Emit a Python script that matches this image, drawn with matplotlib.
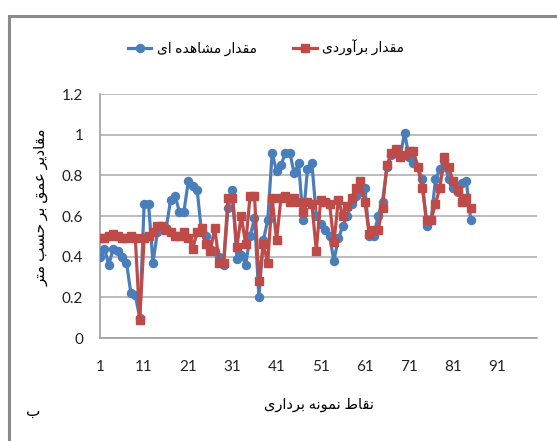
import matplotlib
matplotlib.use('Agg')
import matplotlib.pyplot as plt

plt.rcParams['font.family'] = ['Lato', 'DejaVu Sans']

# sample points 1..85
observed = [0.40, 0.44, 0.36, 0.44, 0.43, 0.40, 0.37, 0.22, 0.21, 0.10,
            0.66, 0.66, 0.37, 0.52, 0.55, 0.54, 0.68, 0.70, 0.62, 0.62,
            0.77, 0.75, 0.73, 0.52, 0.50, 0.44, 0.43, 0.40, 0.36, 0.64,
            0.73, 0.39, 0.41, 0.36, 0.50, 0.59, 0.20, 0.48, 0.58, 0.91,
            0.82, 0.85, 0.91, 0.91, 0.81, 0.86, 0.58, 0.83, 0.86, 0.60,
            0.56, 0.53, 0.50, 0.38, 0.49, 0.55, 0.60, 0.66, 0.70, 0.72,
            0.74, 0.50, 0.50, 0.60, 0.67, 0.84, 0.90, 0.92, 0.89, 1.01,
            0.89, 0.86, 0.84, 0.78, 0.55, 0.58, 0.78, 0.83, 0.87, 0.78,
            0.74, 0.72, 0.76, 0.77, 0.58]
estimated = [0.49, 0.49, 0.50, 0.51, 0.50, 0.49, 0.49, 0.50, 0.49, 0.09,
             0.49, 0.50, 0.52, 0.55, 0.55, 0.53, 0.52, 0.50, 0.50, 0.52,
             0.49, 0.44, 0.52, 0.54, 0.46, 0.43, 0.54, 0.37, 0.37, 0.69,
             0.69, 0.45, 0.60, 0.46, 0.70, 0.70, 0.28, 0.46, 0.37, 0.69,
             0.48, 0.69, 0.70, 0.67, 0.69, 0.67, 0.62, 0.67, 0.66, 0.43,
             0.68, 0.67, 0.66, 0.47, 0.68, 0.60, 0.65, 0.69, 0.74, 0.77,
             0.67, 0.51, 0.53, 0.53, 0.64, 0.85, 0.91, 0.93, 0.89, 0.90,
             0.92, 0.92, 0.84, 0.74, 0.58, 0.58, 0.66, 0.74, 0.89, 0.84,
             0.77, 0.73, 0.67, 0.69, 0.64]
samples = list(range(1, len(observed) + 1))
x_ticks = [1, 11, 21, 31, 41, 51, 61, 71, 81, 91]
y_ticks = [0, 0.2, 0.4, 0.6, 0.8, 1, 1.2]

label_obs = 'مقدار مشاهده ای'
label_est = 'مقدار برآوردی'
x_title = 'نقاط نمونه برداری'
y_title = 'مقادیر عمق بر حسب متر'
panel = 'ب'

# matplotlib has no arabic shaping, so pick presentation forms by hand
# (isolated, final, initial, medial); two entries = joins to the right only
FORMS = {
    'ا': (0xFE8D, 0xFE8E), 'آ': (0xFE81, 0xFE82),
    'د': (0xFEA9, 0xFEAA), 'ر': (0xFEAD, 0xFEAE), 'و': (0xFEED, 0xFEEE),
    'ب': (0xFE8F, 0xFE90, 0xFE91, 0xFE92), 'ت': (0xFE95, 0xFE96, 0xFE97, 0xFE98),
    'ح': (0xFEA1, 0xFEA2, 0xFEA3, 0xFEA4), 'س': (0xFEB1, 0xFEB2, 0xFEB3, 0xFEB4),
    'ش': (0xFEB5, 0xFEB6, 0xFEB7, 0xFEB8), 'ط': (0xFEC1, 0xFEC2, 0xFEC3, 0xFEC4),
    'ع': (0xFEC9, 0xFECA, 0xFECB, 0xFECC), 'ق': (0xFED5, 0xFED6, 0xFED7, 0xFED8),
    'م': (0xFEE1, 0xFEE2, 0xFEE3, 0xFEE4), 'ن': (0xFEE5, 0xFEE6, 0xFEE7, 0xFEE8),
    'ه': (0xFEE9, 0xFEEA, 0xFEEB, 0xFEEC), 'ی': (0xFBFC, 0xFBFD, 0xFBFE, 0xFBFF),
}


def fa(text):
    out = []
    for i, c in enumerate(text):
        if c not in FORMS:
            out.append(c)
            continue
        forms = FORMS[c]
        prev = text[i - 1] if i > 0 else ''
        nxt = text[i + 1] if i + 1 < len(text) else ''
        join_prev = prev in FORMS and len(FORMS[prev]) == 4
        join_next = nxt in FORMS and len(forms) == 4
        if join_prev and join_next:
            f = forms[3]
        elif join_prev:
            f = forms[1]
        elif join_next:
            f = forms[2]
        else:
            f = forms[0]
        out.append(chr(f))
    return ''.join(reversed(out))


fig = plt.figure(figsize=(5.57, 4.41), dpi=100)

# background axes in pixel units for the chart frame and the panel letter
bg = fig.add_axes([0, 0, 1, 1], zorder=-1)
bg.set_xlim(0, 557)
bg.set_ylim(441, 0)
bg.axis('off')
bg.plot([9, 9, 600], [460, 16, 16], color='#8a8a8a', lw=2.2,
        solid_joinstyle='miter', clip_on=False)
bg.text(33, 411, panel, fontsize=11, ha='center', va='center',
        family='DejaVu Sans')

ax = fig.add_axes([100 / 557, 1 - 338 / 441, 437 / 557, 244 / 441])

blue = '#4a7ebb'
red = '#be4b48'
ax.plot(samples, observed, color=blue, lw=2.3, marker='o', ms=5.8,
        label=fa(label_obs), zorder=3)
ax.plot(samples, estimated, color=red, lw=2.3, marker='s', ms=5.8,
        label=fa(label_est), zorder=4)

ax.set_xlim(1, 100)
ax.set_ylim(0, 1.2)
ax.set_xticks(x_ticks)
ax.set_xticklabels([str(t) for t in x_ticks])
ax.set_yticks(y_ticks)
ax.set_yticklabels(['0', '0.2', '0.4', '0.6', '0.8', '1', '1.2'])
ax.tick_params(axis='both', length=0, labelsize=11, colors='#222222')
ax.tick_params(axis='x', pad=16)
ax.tick_params(axis='y', pad=12)
ax.grid(axis='y', color='#b0b0b0', lw=1.2)
ax.set_axisbelow(True)
ax.patch.set_alpha(0)
for side in ['top', 'right']:
    ax.spines[side].set_visible(False)
ax.spines['left'].set_color('#a0a0a0')
ax.spines['bottom'].set_color('#a0a0a0')
ax.spines['left'].set_linewidth(1.2)
ax.spines['bottom'].set_linewidth(1.2)

ax.set_xlabel(fa(x_title), fontsize=10.5, labelpad=17)
fig.text(41 / 557, 1 - 207 / 441, fa(y_title), fontsize=11, rotation=90,
         ha='center', va='center')

ax.legend(loc='center', bbox_to_anchor=(266 / 557, 1 - 48 / 441),
          bbox_transform=fig.transFigure, ncol=2, frameon=False,
          fontsize=10, handlelength=1.7, handletextpad=0.4,
          columnspacing=2.6)

fig.savefig('out.png', dpi=100)
